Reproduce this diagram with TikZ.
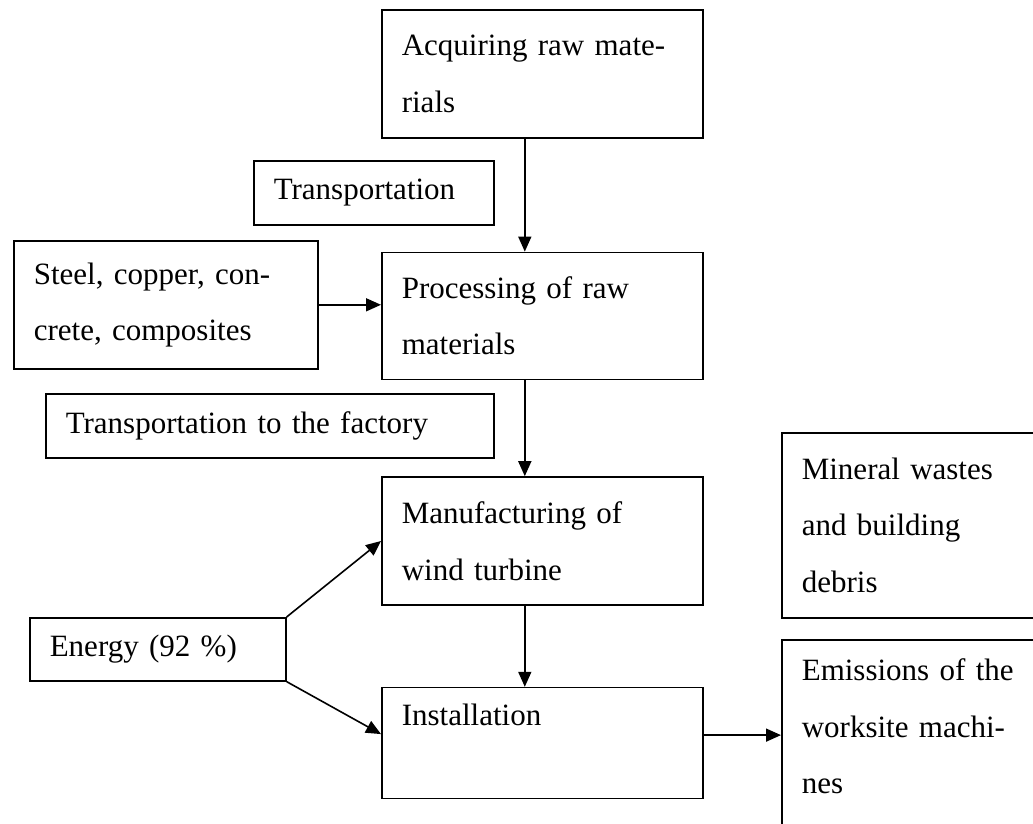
\documentclass[tikz,border=0pt]{standalone}
\usepackage{fontspec}
\setmainfont{Liberation Serif}
\usetikzlibrary{arrows.meta,positioning}

\begin{document}
\begin{tikzpicture}[
  x=1pt,y=1pt,
  box/.style={draw,line width=1.6pt,inner xsep=20pt,inner ysep=3pt,align=left,anchor=north west,font=\fontsize{31}{56.5}\selectfont},
  col/.style={box,text width=281pt},
  arrow/.style={-{Triangle[length=15pt,width=13pt]},line width=1.6pt}
]
\useasboundingbox (0,0) rectangle (1033,-823);
\clip (0,0) rectangle (1033,-823);

% main column
\node[col,minimum height=128pt] (acq) at (381,-9) {Acquiring raw mate-\\rials};
\node[col,minimum height=127pt,below=113pt of acq] (proc) {Processing of raw\\materials};
\node[col,minimum height=128pt,below=96pt of proc] (manu) {Manufacturing of\\wind turbine};
\node[col,minimum height=111pt,below=81pt of manu] (inst) {Installation\\\mbox{}};

% side boxes
\node[box,text width=200pt,minimum height=64pt] (trans) at (253,-160) {Transportation};
\node[box,text width=264pt,minimum height=128pt] (steel) at (13,-240) {Steel, copper, con-\\crete, composites};
\node[box,text width=408pt,minimum height=64pt] (tfac) at (45,-393) {Transportation to the factory};
\node[box,text width=216pt,minimum height=63pt] (energy) at (29,-617) {Energy (92 \%)};
\node[box,text width=240pt,minimum height=185pt] (mineral) at (781,-432) {Mineral wastes\\and building\\debris};
\node[box,text width=240pt,minimum height=230pt] (emis) at (781,-639) {Emissions of the\\worksite machi-\\nes\\\mbox{}};

\draw[arrow] ([xshift=-17.5pt]acq.south) -- ([xshift=-17.5pt]proc.north);
\draw[arrow] (steel.east) -- (steel.east -| proc.west);
\draw[arrow] ([xshift=-17.5pt]proc.south) -- ([xshift=-17.5pt]manu.north);
\draw[arrow] ([xshift=-17.5pt]manu.south) -- ([xshift=-17.5pt]inst.north);
\draw[arrow] (energy.north east) -- (manu.west);
\draw[arrow] (energy.south east) -- ([yshift=9pt]inst.west);
\draw[arrow] ([yshift=8pt]inst.east) -- ([yshift=8pt]inst.east -| emis.west);
\end{tikzpicture}
\end{document}
